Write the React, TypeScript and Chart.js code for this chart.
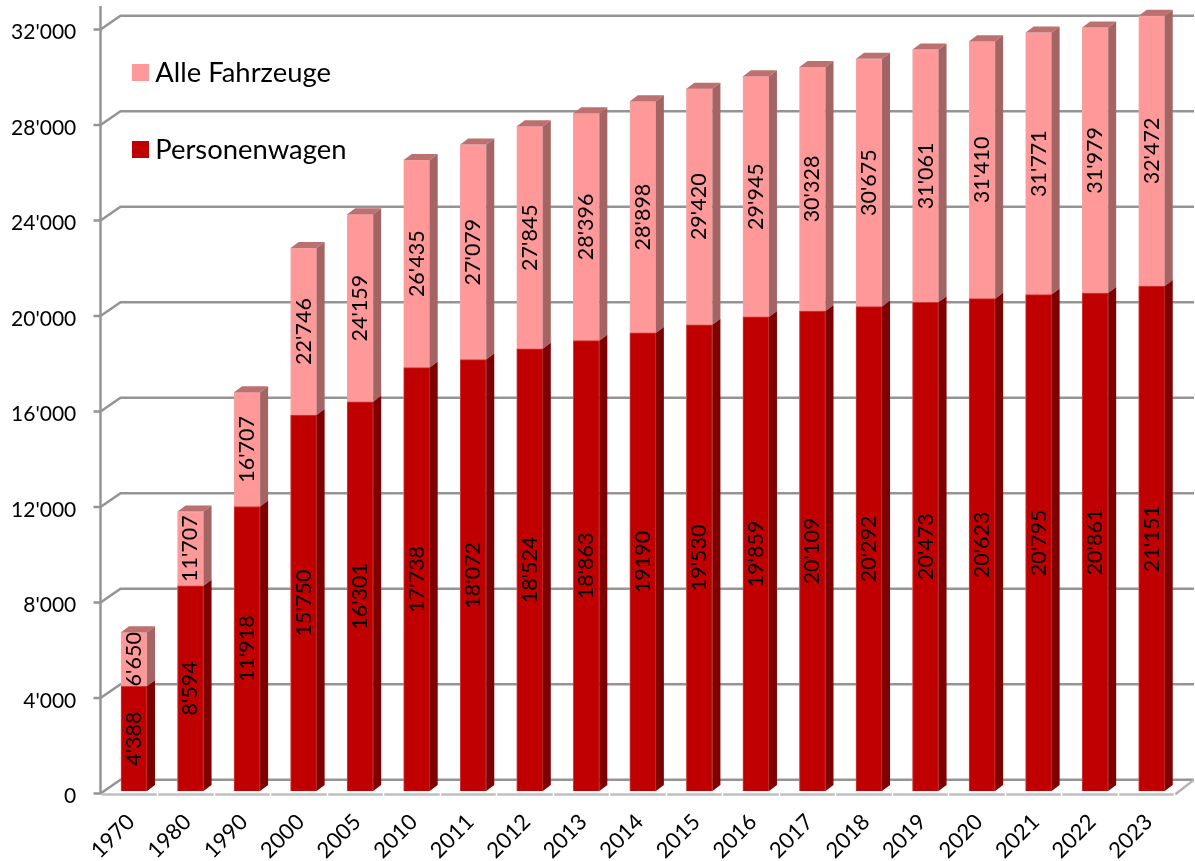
import React, { useEffect, useRef } from "react";
import { Chart, registerables } from "chart.js";

Chart.register(...registerables);

const categories = ["1970","1980","1990","2000","2005","2010","2011","2012","2013","2014","2015","2016","2017","2018","2019","2020","2021","2022","2023"];
const personenwagen = [4388,8594,11918,15750,16301,17738,18072,18524,18863,19190,19530,19859,20109,20292,20473,20623,20795,20861,21151];
const alleFahrzeuge = [6650,11707,16707,22746,24159,26435,27079,27845,28396,28898,29420,29945,30328,30675,31061,31410,31771,31979,32472];
const personenwagenLabels = ["4'388","8'594","11'918","15'750","16'301","17'738","18'072","18'524","18'863","19190","19'530","19'859","20'109","20'292","20'473","20'623","20'795","20'861","21'151"];
const alleFahrzeugeLabels = ["6'650","11'707","16'707","22'746","24'159","26'435","27'079","27'845","28'396","28'898","29'420","29'945","30'328","30'675","31'061","31'410","31'771","31'979","32'472"];

const FONT = "Lato, 'Noto Sans', sans-serif";
const RED = "#C00000", RED_SIDE = "#7F0000";
const PINK = "#FF9999", PINK_SIDE = "#A56464", PINK_TOP = "#BD7070";
const GRID = "#949494";
const DX = 8, DY = 6;

function swatch(color: string) {
  const c = document.createElement("canvas");
  c.width = 17; c.height = 17;
  const g = c.getContext("2d")!;
  g.fillStyle = color; g.fillRect(0, 0, 17, 17);
  return c;
}

const scene = {
  id: "scene",
  beforeDatasetsDraw(chart: any) {
    const { ctx, scales: { x, y } } = chart;
    ctx.save();
    ctx.lineCap = "butt";
    const zero = y.getPixelForValue(0);
    const frontL = x.left - 5.25, backL = frontL + 20, span = 56.5 * categories.length;
    ctx.strokeStyle = GRID; ctx.lineWidth = 2.5;
    y.ticks.forEach((t: any) => {
      const p = y.getPixelForValue(t.value);
      ctx.beginPath();
      ctx.moveTo(frontL - 7, p + 2.5);
      ctx.lineTo(frontL, p + 2.5);
      ctx.lineTo(backL, p - 11.3);
      ctx.lineTo(backL + span, p - 11.3);
      ctx.stroke();
    });
    ctx.beginPath();
    ctx.moveTo(frontL, 6); ctx.lineTo(frontL, zero + 3);
    ctx.stroke();
    // floor edge
    ctx.strokeStyle = "#b4b4b4"; ctx.lineWidth = 2.5;
    ctx.beginPath();
    ctx.moveTo(backL + span, zero - 11.3);
    ctx.lineTo(frontL + span + 1, zero + 3.5);
    ctx.stroke();
    ctx.strokeStyle = "#bfbfbf"; ctx.lineWidth = 2.5;
    ctx.beginPath();
    ctx.moveTo(frontL + 1, zero + 3.5); ctx.lineTo(frontL + span, zero + 3.5);
    ctx.stroke();
    ctx.strokeStyle = "#ffffff"; ctx.lineWidth = 1.5;
    categories.forEach((_, i) => {
      const tx = Math.round(frontL + 56.5 * (i + 1)) + 0.5;
      ctx.beginPath(); ctx.moveTo(tx, zero + 1.5); ctx.lineTo(tx, zero + 6); ctx.stroke();
    });
    ctx.restore();
  },
  afterDatasetsDraw(chart: any) {
    const { ctx } = chart;
    const poly = (c: string, pts: number[][]) => {
      ctx.fillStyle = c;
      ctx.beginPath();
      pts.forEach(([a, b], i) => (i ? ctx.lineTo(a, b) : ctx.moveTo(a, b)));
      ctx.closePath();
      ctx.fill();
    };
    ctx.save();
    const redMeta = chart.getDatasetMeta(0).data;
    const pinkMeta = chart.getDatasetMeta(1).data;
    pinkMeta.forEach((bar: any, i: number) => {
      const L = bar.x - bar.width / 2, R = bar.x + bar.width / 2;
      const red = redMeta[i];
      poly(PINK_TOP, [[L, bar.y], [L + DX, bar.y - DY], [R + DX, bar.y - DY], [R, bar.y]]);
      poly(PINK_SIDE, [[R, bar.y], [R + DX, bar.y - DY], [R + DX, red.y - DY], [R, red.y]]);
      poly(RED_SIDE, [[R, red.y], [R + DX, red.y - DY], [R + DX, red.base - DY], [R, red.base]]);
    });
    ctx.fillStyle = "#000";
    ctx.font = `21.5px ${FONT}`;
    ctx.textAlign = "center";
    ctx.textBaseline = "middle";
    const text = (s: string, cx: number, cy: number) => {
      ctx.save(); ctx.translate(cx, cy); ctx.rotate(-Math.PI / 2); ctx.fillText(s, 0, 0); ctx.restore();
    };
    redMeta.forEach((bar: any, i: number) => text(personenwagenLabels[i], bar.x, (bar.y + bar.base) / 2));
    pinkMeta.forEach((bar: any, i: number) => text(alleFahrzeugeLabels[i], bar.x, (bar.y + redMeta[i].y) / 2));
    ctx.restore();
  },
  afterLayout(chart: any) {
    const l = chart.legend;
    l.left = 139 - 50;
    l.top = 59.5 - 50;
    l.adjustHitBoxes && l.adjustHitBoxes();
  },
};

export default function App() {
  const ref = useRef<HTMLCanvasElement>(null);
  useEffect(() => {
    const chart = new Chart(ref.current!, {
      type: "bar",
      data: {
        labels: categories,
        datasets: [
          { label: "Personenwagen", data: personenwagen, backgroundColor: RED, borderColor: "#CE3A3A", borderWidth: 1, clip: false },
          { label: "Alle Fahrzeuge", data: alleFahrzeuge, backgroundColor: PINK, borderColor: "#EDA6A6", borderWidth: 1, clip: false },
        ],
      },
      options: {
        responsive: false,
        animation: false,
        layout: { padding: { top: 27.1, right: 15, left: 0, bottom: 0 } },
        datasets: { bar: { barThickness: 26 } },
        scales: {
          x: {
            stacked: true,
            grid: { display: false },
            border: { display: false },
            ticks: { maxRotation: 45, minRotation: 45, autoSkip: false, padding: 10, labelOffset: -3, color: "#000", font: { family: FONT, size: 22 } },
            afterFit(s: any) { s.height = 70; s.paddingLeft = 0; s.paddingRight = 0; },
          },
          y: {
            min: 0,
            max: 32000,
            grid: { display: false },
            border: { display: false },
            ticks: {
              stepSize: 4000,
              padding: 21.5,
              labelOffset: 5.5,
              color: "#000",
              font: { family: FONT, size: 21 },
              callback: (v: any) => String(v).replace(/\B(?=(\d{3})+$)/g, "'"),
            },
            afterFit(s: any) { s.width = 105.75; s.paddingTop = 0; s.paddingBottom = 0; },
          },
        },
        plugins: {
          tooltip: { enabled: false },
          legend: {
            position: "chartArea",
            align: "start",
            reverse: true,
            labels: {
              color: "#000",
              font: { family: FONT, size: 27.4 },
              usePointStyle: true,
              pointStyleWidth: 3,
              padding: 49.6,
              generateLabels: (c: any) =>
                c.data.datasets.map((d: any, i: number) => ({
                  text: d.label,
                  datasetIndex: i,
                  pointStyle: swatch(d.backgroundColor),
                  fillStyle: d.backgroundColor,
                  strokeStyle: d.backgroundColor,
                  lineWidth: 0,
                  fontColor: "#000",
                })),
            },
          },
        },
      } as any,
      plugins: [scene],
    });
    return () => chart.destroy();
  }, []);
  return (
    <div style={{ position: "absolute", left: 0, top: 0 }}>
      <canvas ref={ref} width={1195} height={861} style={{ display: "block" }} />
    </div>
  );
}
